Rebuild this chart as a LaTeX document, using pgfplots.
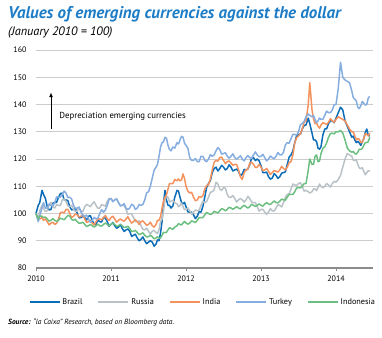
\documentclass[border=0pt]{standalone}
\usepackage{fontspec}
\setmainfont{PT Sans}
\usepackage{pgfplots}
\pgfplotsset{compat=1.18}
\usepackage{pgfplotstable}
\usetikzlibrary{arrows.meta}
\definecolor{cB}{HTML}{0B6DB7}
\definecolor{cR}{HTML}{B9C2C6}
\definecolor{cI}{HTML}{F4925D}
\definecolor{cT}{HTML}{86ADE0}
\definecolor{cN}{HTML}{6CBF80}
\definecolor{ctitle}{HTML}{1C7CC6}
\pgfplotstableread{
t B R I T N
2010.00 100 100 100 100 100
2010.03 103 98 98 97 98
2010.05 104 101 98 99 99
2010.08 108.5 103 98.5 102 99
2010.10 107 102 97.5 104 98.5
2010.125 105.6 100.7 98 102 98.7
2010.15 102.5 101 97 102 98
2010.175 101.3 103.5 95.8 103.3 97.2
2010.20 101.5 104 96.5 103 97.5
2010.225 103.8 102.4 96.8 102.8 98.1
2010.25 104 102 96 104 97.5
2010.275 104.1 103.3 96.4 106.1 97.1
2010.30 106 103 98 106 97.5
2010.325 107.3 102.9 100.3 106 98.3
2010.35 107.5 105 100.5 107 98
2010.375 105 105.3 100.2 108.2 97.7
2010.40 105 104.5 101.5 107.5 98.5
2010.425 104.7 102.7 101.5 105.8 99.3
2010.45 102.5 102.5 100 106 99
2010.475 101.3 103 98.5 105.3 97.8
2010.50 101.5 101.5 99 103 97.5
2010.525 101.9 100.7 99.8 101.8 97.9
2010.55 100 101 99.5 102 97
2010.575 98.4 101.8 98.7 102.4 96.4
2010.60 98.5 101 99 100.5 96.5
2010.625 99 100.7 99.5 99.3 96.8
2010.65 98.5 102.5 98 99 96
2010.675 97.6 103.3 96.7 99.4 95.2
2010.70 99 103 97 98 95.5
2010.725 99.2 102.5 97.5 96.8 96
2010.75 97.5 103.5 96.5 97.5 95.5
2010.775 96 104.3 95.8 98.6 95
2010.80 96 103 97 98 95.5
2010.825 97.6 101.9 98 98.3 96.1
2010.85 97 102 98 100 95.5
2010.875 96.9 103.3 97.7 101.4 95.4
2010.90 98.5 103 98.5 100.5 96
2010.925 98.3 102.7 99.3 101.3 96.5
2010.95 97 104.5 98 103 96
2010.975 95.3 105.5 97.5 105.2 95.4
2011.00 96 105.5 98.5 105.5 96
2011.025 96.7 104.5 99 104.3 96.5
2011.05 95.5 105 98 105 96
2011.075 94.6 105.5 96.8 105.3 95.3
2011.10 95 104 97.5 104 95.5
2011.125 95.9 102.9 98 102.8 96.1
2011.15 94.5 103 97.5 103 95.5
2011.175 93.4 103 97.2 103.6 94.9
2011.20 94 101.5 98 102 95
2011.225 94.3 99.7 98.8 101.5 95.3
2011.25 93.5 100 97.5 102 94.5
2011.275 91.6 99.8 96.5 103.4 93.4
2011.30 92 98.5 97 103 93.5
2011.325 92.4 97 97.7 101.5 93.8
2011.35 91 97 97 102 93
2011.375 90 97.3 96 103.3 92.3
2011.40 90.5 95.5 97 103 92.5
2011.425 91.4 94.2 97.3 103.3 92.9
2011.45 90 94 96.5 105 92
2011.475 88.9 94.6 95.7 107.6 91.4
2011.50 89.5 93.5 96 108 91.5
2011.525 90 92.4 96.8 110 92
2011.55 89.5 93.5 95.5 113 91.5
2011.575 88 93.8 95 115.9 90.7
2011.60 88.8 93 96 117 91
2011.62 90.3 92.7 97.5 118 91.5
2011.64 90 94 97.5 121 91
2011.66 92.8 97 98.8 124.3 91
2011.68 97 98 102 126 92
2011.70 103.9 100.9 104.5 126.3 93.1
2011.72 108.5 105 106 128 93
2011.74 104.9 106.3 106.9 127.6 93.1
2011.76 103 106 109 125 94
2011.78 103 104.2 111 123.5 94.8
2011.80 102 104.5 111 123 94.5
2011.825 102.8 104.8 111 124.4 94.2
2011.85 106 104 112.5 124 95
2011.88 108.5 103.5 112 126 95.5
2011.90 108.2 102.5 112.7 125.5 96.3
2011.92 106 103 112 127 96
2011.94 104 103.8 112.3 128.3 95.8
2011.96 103.5 102.5 114.5 128 96.5
2011.98 104.1 101.4 112.8 125.8 97.1
2012.00 102.5 101.5 110 125 96.5
2012.025 100.6 102 108.2 123.9 96.1
2012.05 100.5 101 107.5 120.5 96.5
2012.075 100.5 99.7 107.8 119.5 97.3
2012.10 99.5 100.5 106 119.5 97
2012.125 98.1 101.3 104.7 120.2 96.7
2012.15 99 101 105 119 97.5
2012.175 100.7 101.2 106.2 119 98.5
2012.20 100.5 103 106 121 98.5
2012.225 102.6 104.5 106.5 121 98.5
2012.25 106 104 109 119.5 99.5
2012.275 109.6 104.4 110.3 119 100.4
2012.30 111 106 110.5 120 100
2012.325 112.1 107.8 112.7 121.6 99.6
2012.35 115 108 116 121 100
2012.375 116.5 108.7 118.8 121.5 100.8
2012.40 117 111.5 119.5 123 100.5
2012.425 115.6 110.8 119.2 124.2 100.2
2012.45 116.5 109 120.5 123.5 101
2012.475 117.7 108.5 120.7 121.8 101.8
2012.50 117 109.5 119.5 122 101.5
2012.525 116 109.3 118.3 122.3 101
2012.55 116.5 107 119 121 101.5
2012.575 117.9 105.9 119.3 120.3 102.3
2012.60 117 106 118.5 121 102
2012.625 115.6 106.6 117.7 121.9 101.6
2012.65 116 105.5 118 120.5 102
2012.675 116.3 104.2 118 120 102.5
2012.70 115.5 105 116 120.5 102
2012.725 113.8 105.5 113.5 121.2 101.7
2012.75 114.5 105 112.5 120 102.5
2012.775 116.2 104.2 115 119.3 103
2012.80 116 105 116 120.5 102.5
2012.825 116.3 106.3 116.3 121.3 102
2012.85 118 105.5 118.5 120.5 102.5
2012.875 120.4 104.2 118.8 120.3 103.4
2012.90 120.5 104 118 121.5 103
2012.925 119.4 104 116.9 122.6 102.6
2012.95 120 102.5 117 121.5 103
2012.975 119.3 100.9 118 120.8 103.5
2013.00 117.5 101.5 117 121 103
2013.025 115 101.5 115.7 121.7 102.7
2013.05 115 100.5 116 120.5 103.5
2013.075 115.2 99.7 116.5 119.3 104
2013.10 113.5 100.5 115.5 120 103.5
2013.125 112.6 101.8 114.3 121.1 103.3
2013.15 113 101 115 120.5 104
2013.175 114.6 100.9 115.8 120.1 104.6
2013.20 114 102 115.5 121 104
2013.225 112.9 103.3 115.2 122.4 103.9
2013.25 113.5 103 116 121.5 104.5
2013.275 114.8 102.4 117.3 121.5 105.3
2013.30 115 104 116.5 122.5 105
2013.325 115.3 106 116 125.2 104.9
2013.35 118 107 117 126 106
2013.375 120.7 107.2 118.7 125.8 107
2013.40 121.5 109 119 127.5 107
2013.425 123 110.8 121.5 129 107
2013.45 126 110.5 126 129 108
2013.475 128.6 110.2 127.8 128.8 109.4
2013.50 129 111 128.5 130 109.5
2013.525 129.1 111.3 129.2 132.6 109.4
2013.55 131 110 131 133 110
2013.575 132.3 108.2 133.5 133.8 111
2013.60 132.5 108.5 134 135.5 111
2013.63 135 108 140 136.5 116
2013.65 133 107.5 148 136 120
2013.68 129.5 108 138 135.5 118
2013.70 127 109 134.7 135.9 118
2013.72 127 109 133 134.5 121
2013.74 126.4 108.4 133.2 133.3 121.5
2013.76 124 109.5 132 134 119
2013.78 123.6 110.8 131.3 135 119.3
2013.80 124.5 110 132.5 134.5 122
2013.825 128.9 109.4 133.3 134.6 123.9
2013.85 131 110 133 136 124.5
2013.875 131.1 111 132.7 137.6 125.9
2013.90 133 110.5 133.5 137 128
2013.925 134 109.7 134.8 137 129.3
2013.95 134 111 134 138 129.5
2013.975 133.3 111.8 133.5 139.9 129.2
2014.00 135 111.5 134.5 140 130
2014.03 137 112.5 135.5 146 130
2014.06 139 114 135 155.5 130.5
2014.09 138 117 134.5 150 129.5
2014.12 134 120 134 149 127
2014.15 132 122 132.5 148.5 124
2014.18 130 121.5 131 148 123
2014.21 128 121 130 145 122.5
2014.23 128.4 119.5 130 142.5 122.8
2014.25 127 119.5 128.5 142 122
2014.27 126 119.8 127 141.3 121.8
2014.29 126.5 118 127.5 139 122.5
2014.31 125.9 116.7 127.3 138.5 123.6
2014.33 125 116.5 126 139.5 123.5
2014.35 126.3 116.8 126.2 141.1 123.9
2014.37 127.5 115.5 127.5 140.5 125
2014.39 129.8 114.2 129.3 139.8 126
2014.41 131 115 129 140 126
2014.43 128.6 115.8 128.5 142.4 126.4
2014.45 128.5 115.5 129.5 143 128
}\data
\begin{document}
\begin{tikzpicture}
\useasboundingbox (-36bp,-70bp) rectangle (346bp,268bp);
\begin{axis}[
  scale only axis, width=337bp, height=218bp,
  xmin=2010, xmax=2014.493, ymin=80, ymax=160,
  axis x line*=bottom, axis y line*=left,
  y axis line style={draw=none},
  x axis line style={draw=black!45, line width=1.2bp},
  ytick={80,90,...,160}, xtick={2010,2011,2012,2013,2014},
  ytick style={draw=none},
  xtick style={draw=black!45, line width=0.8bp},
  tick align=outside, major tick length=3bp,
  ymajorgrids, grid style={draw=black!20, line width=0.8bp},
  /pgf/number format/1000 sep={},
  /pgf/number format/assume math mode=true,
  tick label style={font=\fontsize{8}{9}\selectfont},
  yticklabel style={xshift=-3bp},
  xticklabel style={yshift=-1bp},
  every axis plot/.append style={line width=1.5bp, no markers, line join=round},
  legend columns=5,
  legend style={at={(0.495,-0.156)}, anchor=center, draw=none, fill=none,
    font=\fontsize{8.3}{9}\selectfont,
    /tikz/every even column/.append style={column sep=13bp}},
  legend image code/.code={\draw[#1, line width=1.8bp] (0bp,0bp) -- (30bp,0bp);},
  clip=false,
]
\addplot[cB] table[x=t,y=B] {\data};
\addlegendentry{Brazil}
\addplot[cR] table[x=t,y=R] {\data};
\addlegendentry{Russia}
\addplot[cI] table[x=t,y=I] {\data};
\addlegendentry{India}
\addplot[cT] table[x=t,y=T] {\data};
\addlegendentry{Turkey}
\addplot[cN] table[x=t,y=N] {\data};
\addlegendentry{Indonesia}
\draw[-{Latex[length=5bp,width=4bp]}, line width=1bp] (axis cs:2010.2,131) -- (axis cs:2010.2,144.5);
\node[anchor=west, inner sep=0pt, font=\fontsize{8.8}{10}\selectfont] at (axis cs:2010.31,135.5) {Depreciation emerging currencies};
\end{axis}
\node[anchor=west, inner sep=0pt, text=ctitle, font=\fontsize{17}{19}\selectfont\bfseries\itshape] at (-28bp,254bp) {Values of emerging currencies against the dollar};
\node[anchor=west, inner sep=0pt, font=\fontsize{12.3}{14}\selectfont\itshape] at (-28bp,236bp) {(January 2010 = 100)};
\node[anchor=west, inner sep=0pt, font=\fontsize{7.5}{9}\selectfont\itshape] at (-28bp,-54bp) {\textbf{Source:} ``la Caixa'' Research, based on Bloomberg data.};
\end{tikzpicture}
\end{document}
